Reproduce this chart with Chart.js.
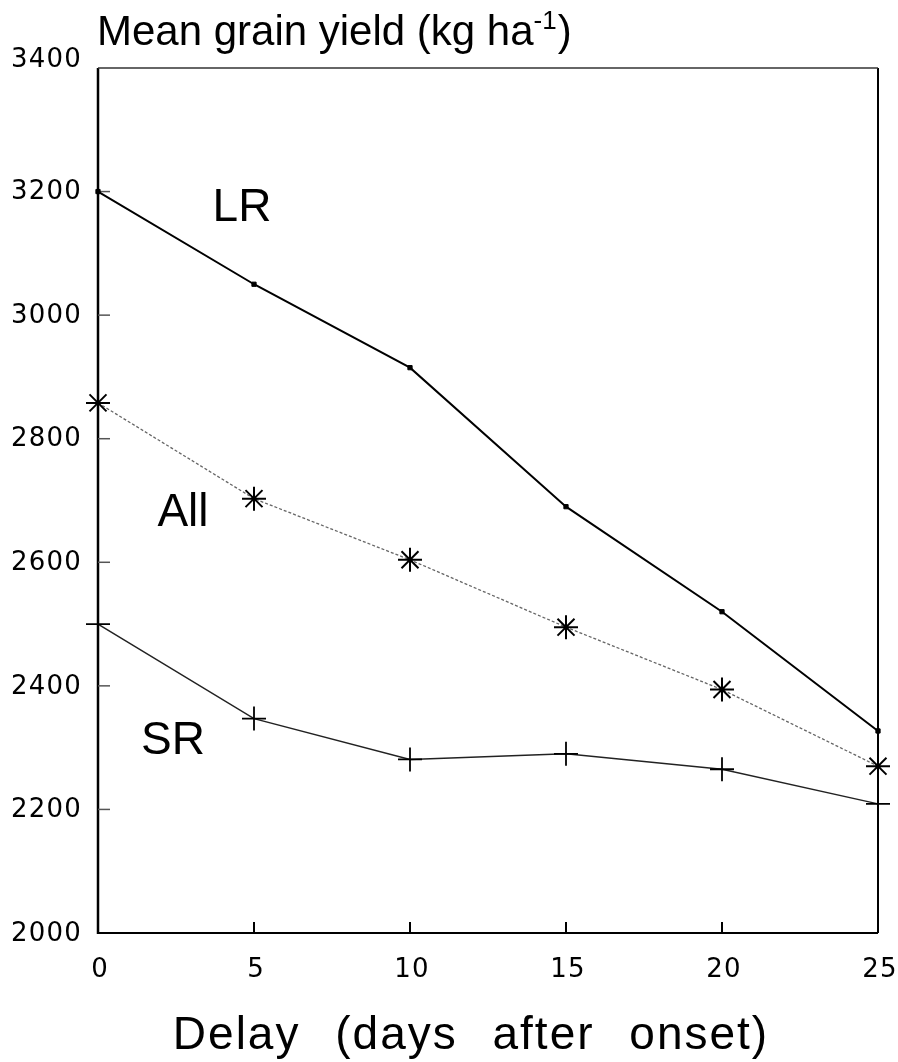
<!DOCTYPE html>
<html>
<head>
<meta charset="utf-8">
<script src="https://cdn.jsdelivr.net/npm/chart.js@4.4.1/dist/chart.umd.min.js"></script>
<style>
html,body{margin:0;padding:0;background:#fff;}
canvas{display:block;}
</style>
</head>
<body>
<canvas id="c" width="898" height="1062"></canvas>
<script>
// ---- data ----
const delayDays = [0, 5, 10, 15, 20, 25];
const yieldLR  = [3200, 3050, 2915, 2690, 2520, 2327];
const yieldAll = [2858, 2703, 2604, 2495, 2394, 2270];
const yieldSR  = [2500, 2347, 2281, 2290, 2265, 2209];
const yTickValues = [2000, 2200, 2400, 2600, 2800, 3000, 3200, 3400];
const xTickValues = [0, 5, 10, 15, 20, 25];
const seriesLabels = ['LR', 'All', 'SR'];
const titleText = 'Mean grain yield (kg ha';
const titleSup = '-1';
const xTitleText = 'Delay (days after onset)';

function pts(xs, ys){ return xs.map((x,i)=>({x:x, y:ys[i]})); }

function setSpacing(ctx, ls, ws){
  if ('letterSpacing' in ctx) ctx.letterSpacing = ls + 'px';
  if ('wordSpacing' in ctx) ctx.wordSpacing = ws + 'px';
}

const decor = {
  id: 'decor',
  beforeDatasetsDraw(chart){
    const ctx = chart.ctx, a = chart.chartArea;
    const xs = chart.scales.x, ys = chart.scales.y;
    ctx.save();
    ctx.strokeStyle = '#000';
    ctx.lineCap = 'butt';
    ctx.lineWidth = 2.5;
    ctx.beginPath(); ctx.moveTo(a.left, a.top); ctx.lineTo(a.left, a.bottom+1); ctx.stroke();
    ctx.lineWidth = 2;
    ctx.beginPath(); ctx.moveTo(a.left, a.bottom); ctx.lineTo(a.right, a.bottom); ctx.stroke();
    ctx.lineWidth = 2;
    ctx.beginPath(); ctx.moveTo(a.right, a.top); ctx.lineTo(a.right, a.bottom); ctx.stroke();
    ctx.strokeStyle = '#333';
    ctx.lineWidth = 1.5;
    ctx.beginPath(); ctx.moveTo(a.left, a.top); ctx.lineTo(a.right, a.top); ctx.stroke();
    ctx.strokeStyle = '#555';
    ctx.lineWidth = 1.5;
    yTickValues.forEach(v=>{
      if (v === ys.min || v === ys.max) return;
      const y = ys.getPixelForValue(v);
      ctx.beginPath(); ctx.moveTo(a.left, y); ctx.lineTo(a.left+12, y); ctx.stroke();
    });
    ctx.strokeStyle = '#000';
    ctx.lineWidth = 2;
    xTickValues.forEach(v=>{
      if (v === xs.min || v === xs.max) return;
      const x = xs.getPixelForValue(v);
      ctx.beginPath(); ctx.moveTo(x, a.bottom); ctx.lineTo(x, a.bottom-11); ctx.stroke();
    });
    ctx.restore();
  },
  afterDraw(chart){
    const ctx = chart.ctx, a = chart.chartArea;
    const xs = chart.scales.x, ys = chart.scales.y;
    ctx.save();
    ctx.fillStyle = '#000';
    // y tick labels
    ctx.font = '26px "DejaVu Sans"';
    setSpacing(ctx, 1.2, 0);
    ctx.textAlign = 'right';
    ctx.textBaseline = 'middle';
    yTickValues.forEach(v=>{
      let y = ys.getPixelForValue(v);
      if (v === ys.max) y -= 9;
      ctx.fillText(String(v), a.left - 16, y + 1);
    });
    // x tick labels
    ctx.textAlign = 'center';
    ctx.textBaseline = 'middle';
    xTickValues.forEach(v=>{
      const x = xs.getPixelForValue(v);
      ctx.fillText(String(v), x + 2, a.bottom + 37);
    });
    // series labels
    ctx.font = '46px "Liberation Sans"';
    setSpacing(ctx, 0, 0);
    ctx.textAlign = 'center';
    ctx.textBaseline = 'middle';
    ctx.fillText(seriesLabels[0], 242, 208);
    ctx.fillText(seriesLabels[1], 183, 513);
    ctx.fillText(seriesLabels[2], 173, 741);
    // title
    ctx.textAlign = 'left';
    ctx.textBaseline = 'alphabetic';
    ctx.font = '42px "Liberation Sans"';
    setSpacing(ctx, 0, 0);
    let tx = 97;
    ctx.fillText(titleText, tx, 45);
    tx += ctx.measureText(titleText).width;
    ctx.font = '26px "Liberation Sans"';
    ctx.fillText(titleSup, tx, 29);
    tx += ctx.measureText(titleSup).width + 1;
    ctx.font = '42px "Liberation Sans"';
    ctx.fillText(')', tx, 45);
    // x title
    ctx.font = '46px "Liberation Sans"';
    setSpacing(ctx, 2, 20);
    ctx.textAlign = 'center';
    ctx.fillText(xTitleText, 471, 1049);
    setSpacing(ctx, 0, 0);
    ctx.restore();
  }
};

new Chart(document.getElementById('c'), {
  type: 'line',
  data: {
    datasets: [
      { label: 'LR', data: pts(delayDays, yieldLR), borderColor: '#000', borderWidth: 2,
        pointStyle: 'rect', pointRadius: 3, pointBackgroundColor: '#000', pointBorderColor: '#000',
        pointBorderWidth: 1, tension: 0, clip: false, fill: false },
      { label: 'All', data: pts(delayDays, yieldAll), borderColor: '#666', borderWidth: 1.3,
        borderDash: [3, 2], pointStyle: 'star', pointRadius: 12, pointBorderColor: '#000',
        pointBackgroundColor: '#000', pointBorderWidth: 2, tension: 0, clip: false, fill: false },
      { label: 'SR', data: pts(delayDays, yieldSR), borderColor: '#222', borderWidth: 1.5,
        pointStyle: 'cross', pointRadius: 12, pointBorderColor: '#000', pointBorderWidth: 1.8,
        tension: 0, clip: false, fill: false }
    ]
  },
  options: {
    responsive: false,
    animation: false,
    devicePixelRatio: 1,
    layout: { padding: { left: 98, right: 20, top: 68, bottom: 129 } },
    plugins: { legend: { display: false }, tooltip: { enabled: false }, title: { display: false } },
    scales: {
      x: { type: 'linear', min: 0, max: 25, display: false },
      y: { type: 'linear', min: 2000, max: 3400, display: false }
    }
  },
  plugins: [decor]
});
</script>
</body>
</html>
